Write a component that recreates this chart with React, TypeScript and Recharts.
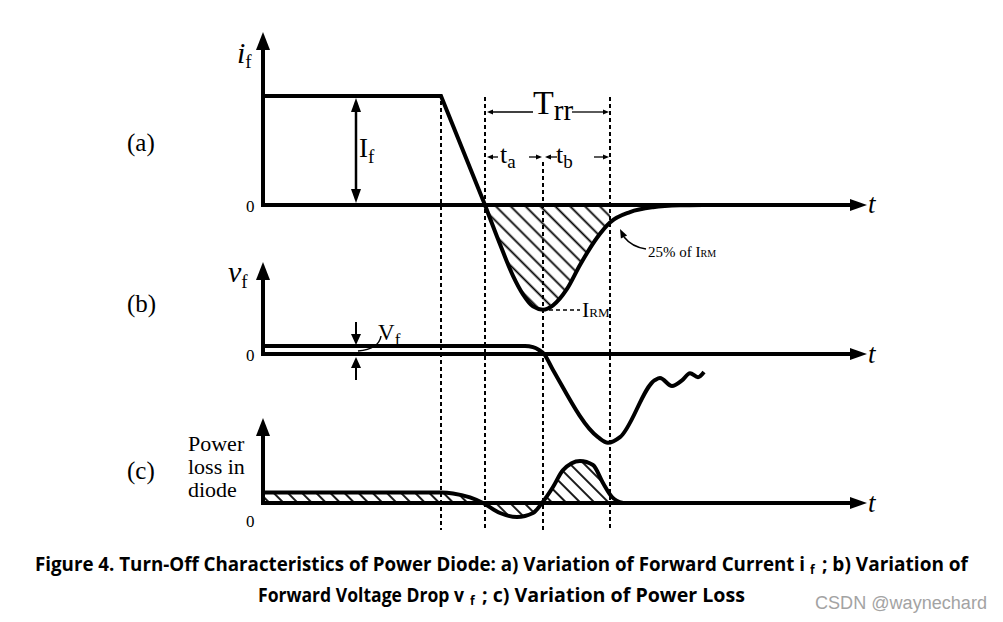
import { ComposedChart, Line, Area, XAxis, YAxis, ReferenceLine, ReferenceDot } from 'recharts'

const W = 1003
const H = 622
const AXIS_X = 263 // the three vertical axes sit here

// key instants, measured from the vertical axis
const T_FALL = 178
const T_ZERO = 222
const T_RM = 280
const T_RR = 347
const T_TIP = 604

// (a) forward current, in units of I_F
const iRamp = [
  { t: 0, v: 1 },
  { t: 178, v: 1 },
  { t: 222, v: 0 },
]
const iRecovery = [
  { t: 222, v: 0 },
  { t: 237, v: -0.36 },
  { t: 250, v: -0.65 },
  { t: 260, v: -0.82 },
  { t: 270, v: -0.93 },
  { t: 280, v: -0.96 },
  { t: 290, v: -0.92 },
  { t: 304, v: -0.77 },
  { t: 317, v: -0.55 },
  { t: 334, v: -0.3 },
  { t: 347, v: -0.16 },
  { t: 367, v: -0.065 },
  { t: 390, v: -0.02 },
  { t: 417, v: -0.003 },
  { t: 440, v: 0 },
]
const iHatch = iRecovery.filter((d) => d.t <= T_RR)

// (b) forward voltage
const vDrop = [
  { t: 0, v: 0.1 },
  { t: 262, v: 0.1 },
  { t: 270, v: 0.085 },
  { t: 276, v: 0.05 },
  { t: 281, v: 0 },
  { t: 290, v: -0.2 },
  { t: 335, v: -1.04 },
  { t: 345, v: -1.11 },
  { t: 357, v: -1.04 },
  { t: 392, v: -0.325 },
  { t: 397, v: -0.3 },
  { t: 409, v: -0.4 },
  { t: 419, v: -0.33 },
  { t: 427, v: -0.24 },
  { t: 435, v: -0.29 },
  { t: 441, v: -0.225 },
]

// (c) power loss
const pLoss = [
  { t: 0, v: 0.26 },
  { t: 178, v: 0.26 },
  { t: 190, v: 0.24 },
  { t: 207, v: 0.14 },
  { t: 220, v: 0 },
  { t: 237, v: -0.25 },
  { t: 254, v: -0.35 },
  { t: 270, v: -0.25 },
  { t: 279, v: 0 },
  { t: 290, v: 0.4 },
  { t: 300, v: 0.82 },
  { t: 317, v: 1.05 },
  { t: 330, v: 0.95 },
  { t: 340, v: 0.5 },
  { t: 349, v: 0.15 },
  { t: 360, v: 0 },
]

// panel baselines (px) and px per unit
const A0 = 205, AU = 109
const B0 = 354, BU = 80
const C0 = 503, CU = 40
const span = (zero: number, unit: number) => [(zero - H) / unit, zero / unit]
const A_TIP = (A0 - 32) / AU
const B_TIP = (B0 - 262) / BU
const C_TIP = (C0 - 418) / CU

const ink = '#000'
const serif = '"Liberation Serif", "DejaVu Serif", serif'
const sans = '"Open Sans", "Noto Sans", sans-serif'

type Part = { s: string; size: number; dy?: number; italic?: boolean }
const txt =
  (parts: Part[], opts: { anchor?: string; family?: string; weight?: number; fill?: string; len?: number } = {}) =>
  (p: any) => (
    <text
      x={p.cx}
      y={p.cy}
      textAnchor={opts.anchor ?? 'start'}
      fontFamily={opts.family ?? serif}
      fontWeight={opts.weight ?? 400}
      fill={opts.fill ?? ink}
      fontSize={parts[0].size}
      fontStyle={parts[0].italic ? 'italic' : 'normal'}
      textLength={opts.len}
      lengthAdjust={opts.len ? 'spacingAndGlyphs' : undefined}
    >
      {parts.length === 1
        ? parts[0].s
        : parts.map((q, i) => (
            <tspan key={i} y={p.cy + (q.dy ?? 0)} fontSize={q.size} fontStyle={q.italic ? 'italic' : 'normal'}>
              {q.s}
            </tspan>
          ))}
    </text>
  )

// arrow with its tip at the dot; dir 1 = right/down
const hArrow = (len: number, dir: number, head = 6, hw = 2.5, sw = 1.3) => (p: any) => {
  const { cx, cy } = p
  const bx = cx - dir * head
  return (
    <g>
      <line x1={cx - dir * len} y1={cy} x2={bx} y2={cy} stroke={ink} strokeWidth={sw} />
      <path d={`M${cx},${cy}L${bx},${cy - hw}L${bx},${cy + hw}Z`} fill={ink} />
    </g>
  )
}
const vArrow = (len: number, dir: number, head = 12, hw = 5, sw = 2.2) => (p: any) => {
  const { cx, cy } = p
  const by = cy - dir * head
  return (
    <g>
      <line x1={cx} y1={cy - dir * len} x2={cx} y2={by} stroke={ink} strokeWidth={sw} />
      <path d={`M${cx},${cy}L${cx - hw},${by}L${cx + hw},${by}Z`} fill={ink} />
    </g>
  )
}
const upHead = (p: any) => (
  <path d={`M${p.cx},${p.cy}L${p.cx - 7},${p.cy + 18}L${p.cx + 7},${p.cy + 18}Z`} fill={ink} />
)
const rightHead = (p: any) => (
  <path d={`M${p.cx},${p.cy}L${p.cx - 17},${p.cy - 6}L${p.cx - 17},${p.cy + 6}Z`} fill={ink} />
)
const irmArrow = (p: any) => {
  const { cx, cy } = p
  return (
    <g>
      <path d={`M${cx + 26},${cy + 20}Q${cx + 12},${cy + 18} ${cx + 4},${cy + 8}`} fill="none" stroke={ink} strokeWidth={1.5} />
      <path d={`M${cx},${cy}L${cx + 7.1},${cy + 6.4}L${cx + 0.9},${cy + 9.6}Z`} fill={ink} />
    </g>
  )
}
const vfLeader = (p: any) => (
  <path
    d={`M${p.cx + 23},${p.cy - 15}Q${p.cx + 21},${p.cy - 2} ${p.cx},${p.cy}`}
    fill="none"
    stroke={ink}
    strokeWidth={1.5}
  />
)

const axisLine = { stroke: ink, strokeWidth: 4, strokeLinecap: 'square' as const }
const dotted = { stroke: ink, strokeWidth: 2, strokeDasharray: '4 3' }
const curve = { stroke: ink, strokeWidth: 4, dot: false, activeDot: false, isAnimationActive: false } as const

export default function App() {
  const dot = (x: number, y: number, shape: any, key: string) => (
    <ReferenceDot key={key} x={x} y={y} yAxisId="fig" r={0} shape={shape} />
  )
  const bold = { family: sans, weight: 700 }
  return (
    <div style={{ position: 'absolute', left: 0, top: 0, width: W, height: H, background: '#fff' }}>
      <ComposedChart width={W} height={H} margin={{ top: 0, right: 0, bottom: 0, left: 0 }}>
        <defs>
          <pattern id="hatchA" patternUnits="userSpaceOnUse" width={10.5} height={10.5} patternTransform="rotate(-45)">
            <line x1={5.25} y1={0} x2={5.25} y2={10.5} stroke={ink} strokeWidth={1.8} />
          </pattern>
          <pattern id="hatchC" patternUnits="userSpaceOnUse" width={10} height={10} patternTransform="rotate(-45)">
            <line x1={5} y1={0} x2={5} y2={10} stroke={ink} strokeWidth={1.8} />
          </pattern>
        </defs>
        <XAxis type="number" dataKey="t" domain={[-AXIS_X, W - AXIS_X]} allowDataOverflow hide />
        <YAxis yAxisId="a" type="number" domain={span(A0, AU)} allowDataOverflow hide />
        <YAxis yAxisId="b" type="number" domain={span(B0, BU)} allowDataOverflow hide />
        <YAxis yAxisId="c" type="number" domain={span(C0, CU)} allowDataOverflow hide />
        <YAxis yAxisId="fig" type="number" domain={[0, H]} reversed allowDataOverflow hide />

        {/* hatched areas */}
        <Area data={iHatch} dataKey="v" yAxisId="a" type="monotone" stroke="none" fill="url(#hatchA)" fillOpacity={1} baseValue={0} dot={false} activeDot={false} isAnimationActive={false} />
        <Area data={pLoss} dataKey="v" yAxisId="c" type="monotone" stroke="none" fill="url(#hatchC)" fillOpacity={1} baseValue={0} dot={false} activeDot={false} isAnimationActive={false} />

        {/* dotted time markers */}
        <ReferenceLine yAxisId="fig" segment={[{ x: T_FALL, y: 101 }, { x: T_FALL, y: 530 }]} {...dotted} />
        <ReferenceLine yAxisId="fig" segment={[{ x: T_ZERO, y: 97 }, { x: T_ZERO, y: 530 }]} {...dotted} />
        <ReferenceLine yAxisId="fig" segment={[{ x: T_RM, y: 162 }, { x: T_RM, y: 530 }]} {...dotted} />
        <ReferenceLine yAxisId="fig" segment={[{ x: T_RR, y: 97 }, { x: T_RR, y: 530 }]} {...dotted} />
        <ReferenceLine yAxisId="fig" segment={[{ x: T_RM + 6, y: 310 }, { x: 317, y: 310 }]} {...dotted} strokeWidth={1.5} />

        {/* axes */}
        {[
          ['a', A_TIP, AU],
          ['b', B_TIP, BU],
          ['c', C_TIP, CU],
        ].map(([id, tip, unit]: any) => [
          <ReferenceLine key={id + 'y'} yAxisId={id} segment={[{ x: 0, y: 0 }, { x: 0, y: tip - 12 / unit }]} {...axisLine} />,
          <ReferenceLine key={id + 'x'} yAxisId={id} segment={[{ x: 0, y: 0 }, { x: T_TIP - 12, y: 0 }]} {...axisLine} />,
          <ReferenceDot key={id + 'u'} x={0} y={tip} yAxisId={id} r={0} shape={upHead} />,
          <ReferenceDot key={id + 'r'} x={T_TIP} y={0} yAxisId={id} r={0} shape={rightHead} />,
        ])}

        {/* curves */}
        <Line data={iRamp} dataKey="v" yAxisId="a" type="linear" {...curve} />
        <Line data={iRecovery} dataKey="v" yAxisId="a" type="monotone" {...curve} />
        <Line data={vDrop} dataKey="v" yAxisId="b" type="monotone" {...curve} />
        <Line data={pLoss} dataKey="v" yAxisId="c" type="monotone" {...curve} />

        {/* panel labels */}
        {dot(-136, 151, txt([{ s: '(a)', size: 25 }]), 'la')}
        {dot(-136, 312, txt([{ s: '(b)', size: 25 }]), 'lb')}
        {dot(-136, 479, txt([{ s: '(c)', size: 25 }]), 'lc')}
        {dot(-26, 63, txt([{ s: 'i', size: 30, italic: true }, { s: 'f', size: 19, dy: 5 }]), 'yi')}
        {dot(-35, 282, txt([{ s: 'v', size: 30, italic: true }, { s: 'f', size: 19, dy: 6 }]), 'yv')}
        {dot(-75, 451, txt([{ s: 'Power', size: 22 }]), 'p1')}
        {dot(-75, 474, txt([{ s: 'loss in', size: 22 }]), 'p2')}
        {dot(-75, 497, txt([{ s: 'diode', size: 22 }]), 'p3')}
        {dot(-17, 212, txt([{ s: '0', size: 17 }]), 'z1')}
        {dot(-17, 361, txt([{ s: '0', size: 17 }]), 'z2')}
        {dot(-17, 527, txt([{ s: '0', size: 17 }]), 'z3')}
        {dot(T_TIP + 1, 213, txt([{ s: 't', size: 27, italic: true }]), 't1')}
        {dot(T_TIP + 1, 363, txt([{ s: 't', size: 27, italic: true }]), 't2')}
        {dot(T_TIP + 1, 512, txt([{ s: 't', size: 27, italic: true }]), 't3')}

        {/* I_F span */}
        {dot(93, 98, vArrow(50, -1, 14, 5, 2.5), 'if1')}
        {dot(93, 203, vArrow(55, 1, 14, 5, 2.5), 'if2')}
        {dot(96, 157, txt([{ s: 'I', size: 27 }, { s: 'f', size: 19, dy: 6 }]), 'ifl')}

        {/* Trr, ta, tb */}
        {dot(T_ZERO + 2, 112, hArrow(46, -1), 'tr1')}
        {dot(T_RR - 1, 112, hArrow(37, 1), 'tr2')}
        {dot(270, 114, txt([{ s: 'T', size: 34 }, { s: 'rr', size: 29, dy: 6 }]), 'trl')}
        {dot(T_ZERO + 2, 157, hArrow(11, -1), 'ta1')}
        {dot(T_RM - 1, 157, hArrow(13, 1), 'ta2')}
        {dot(237, 163, txt([{ s: 't', size: 26 }, { s: 'a', size: 19, dy: 5 }]), 'tal')}
        {dot(T_RM + 2, 157, hArrow(12, -1), 'tb1')}
        {dot(T_RR - 1, 157, hArrow(15, 1), 'tb2')}
        {dot(293, 163, txt([{ s: 't', size: 26 }, { s: 'b', size: 19, dy: 5 }]), 'tbl')}

        {/* I_RM notes */}
        {dot(357, 229, irmArrow, 'irma')}
        {dot(385, 257, txt([{ s: '25% of I', size: 15 }, { s: 'RM', size: 10 }]), 'irm25')}
        {dot(319, 317, txt([{ s: 'I', size: 22 }, { s: 'RM', size: 13 }]), 'irml')}

        {/* V_F */}
        {dot(93, 345, vArrow(23, 1, 11, 5, 2), 'vf1')}
        {dot(93, 357, vArrow(23, -1, 11, 5, 2), 'vf2')}
        {dot(95, 351, vfLeader, 'vfl')}
        {dot(115, 340, txt([{ s: 'V', size: 23 }, { s: 'f', size: 17, dy: 5 }]), 'vft')}

        {/* caption */}
        {dot(-228, 571, txt([{ s: 'Figure 4. Turn-Off Characteristics of Power Diode: a) Variation of Forward Current i', size: 19 }], { ...bold, len: 770 }), 'c1a')}
        {dot(547, 574, txt([{ s: 'f', size: 12 }], bold), 'c1b')}
        {dot(559, 571, txt([{ s: '; b) Variation of', size: 19 }], { ...bold, len: 146 }), 'c1c')}
        {dot(-5, 602, txt([{ s: 'Forward Voltage Drop v', size: 19 }], { ...bold, len: 206 }), 'c2a')}
        {dot(207, 605, txt([{ s: 'f', size: 12 }], bold), 'c2b')}
        {dot(219, 602, txt([{ s: '; c) Variation of Power Loss', size: 19 }], { ...bold, len: 263 }), 'c2c')}
        {dot(552, 609, txt([{ s: 'CSDN @waynechard', size: 18 }], { family: '"Liberation Sans", Arial, sans-serif', fill: '#a3a3a3', len: 172 }), 'wm')}
      </ComposedChart>
    </div>
  )
}
